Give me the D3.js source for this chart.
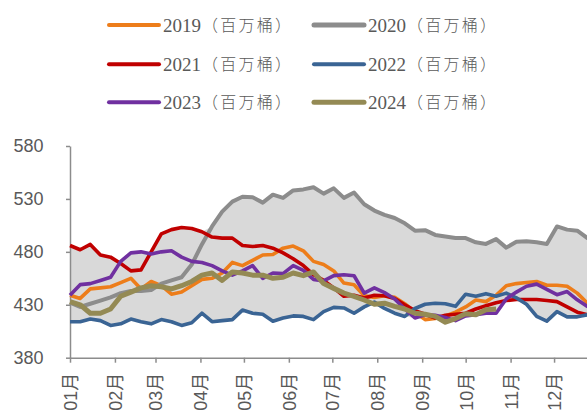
<!DOCTYPE html>
<html>
<head>
<meta charset="utf-8">
<script src="https://cdn.jsdelivr.net/npm/d3@7"></script>
<style>
  body { margin: 0; background: #fff; }
  svg { display: block; }
</style>
</head>
<body>
<svg id="chart" width="587" height="412"></svg>
<script>
// weekly inventory, one value per week starting from Jan 1
const v2019 = [439, 436, 445, 446, 447, 451, 455, 445, 452, 448, 440, 442, 448, 454, 455, 460, 470, 467, 472, 477,
    477.5, 483.5, 485.5, 481, 471, 468, 462, 450.5, 449, 438.5, 437, 438.5, 437, 431, 423, 416, 417, 419.5, 423, 428,
    434.5, 433, 439, 448, 450, 451, 452, 448.5, 448.5, 447.5, 441, 431.6, 426];
const v2020 = [432, 428, 431, 434, 437, 441, 443, 443, 444, 450, 453, 456, 468, 487, 504, 518, 527.5, 532, 531.5, 526.5,
    534, 531, 538, 539, 541, 535, 540, 531, 536, 525, 519, 515, 512, 507, 500, 500.5, 496, 494.5, 493, 493,
    489, 487.5, 492, 484, 489.5, 490, 489, 487.5, 504, 501, 500, 493, 490];
const v2021 = [486, 482, 487, 477, 475, 469, 462, 463, 480, 497, 501, 503, 502, 499, 494, 493, 493, 486, 485, 486,
    483.5, 479, 473.5, 467, 458.5, 453, 446, 438, 439, 436.5, 439, 438.5, 436, 430, 424.5, 421, 417.5, 420, 421, 422,
    426, 429, 432, 434, 435, 435, 435, 434, 433, 428, 423, 420.6, 419];
const v2022 = [414, 414, 416.5, 415, 410.5, 412, 416.5, 414, 412, 416, 414, 410.5, 413, 422, 414, 415, 416, 425, 422, 421,
    414.5, 417.5, 419.5, 419, 416, 423.5, 427.5, 427, 422, 428, 432.5, 426.5, 422, 419, 426.5, 430.5, 431.5, 431, 428.5, 440,
    438, 440.5, 438, 441, 436.5, 430.5, 419, 414.5, 423.5, 418.6, 418.6, 420.6, 421];
const v2023 = [439, 449, 450, 453, 456, 471, 479, 480, 478, 480, 481, 475, 471, 470, 467, 462, 458, 462, 467, 455,
    460, 459.5, 467, 462.5, 454, 452.5, 457.5, 458.3, 457.4, 441, 446, 441.5, 435.5, 426, 417.5, 420.5, 420, 418, 415, 419.5,
    420.5, 422, 422, 435.5, 442, 447.5, 449.5, 444.5, 439.5, 442.5, 434.7, 428.4, 424];
const v2024 = [433, 430, 422, 422, 426, 438, 442, 446, 448, 447, 445, 448, 452, 458, 460, 453, 461, 460, 458, 458,
    455, 456, 460, 457.5, 461, 450, 445.5, 441, 438, 434.5, 430.5, 431.5, 428.5, 426, 422, 421, 419, 413.5, 417, 421.5,
    420.6, 425.3, 426];

const seriesYears = ["2019", "2020", "2021", "2022", "2023", "2024"];
const unitLabel = "（百万桶）";
const seriesColors = ["#ED7D1A", "#8C8C8C", "#C00000", "#3A6494", "#7030A0", "#948A54"];
const monthLabels = ["01月", "02月", "03月", "04月", "05月", "06月", "07月", "08月", "09月", "10月", "11月", "12月"];
const yTicks = [380, 430, 480, 530, 580];

const allSeries = [v2019, v2020, v2021, v2022, v2023, v2024];
const widths = [3.6, 4, 3.6, 3.6, 3.6, 5];

const svg = d3.select("#chart");
const start = new Date(Date.UTC(2019, 0, 1));
const end = new Date(Date.UTC(2020, 0, 1));

const x = d3.scaleUtc().domain([start, end]).range([70, 599]);
const y = d3.scaleLinear().domain([380, 580]).range([357.7, 146]);

const weekDate = i => d3.utcDay.offset(start, 7 * i);

// shaded range of 2019-2023
const band = d3.range(v2019.length).map(i => {
    const vals = [v2019[i], v2020[i], v2021[i], v2022[i], v2023[i]];
    return { d: weekDate(i), lo: d3.min(vals), hi: d3.max(vals) };
});

const area = d3.area()
    .x(d => x(d.d))
    .y0(d => y(d.lo))
    .y1(d => y(d.hi));

svg.append("path")
    .datum(band)
    .attr("d", area)
    .attr("fill", "#D9D9D9");

// axes
const monthStarts = d3.utcMonths(start, end);

const xAxis = svg.append("g")
    .attr("transform", "translate(0,357.7)")
    .call(d3.axisBottom(x).tickValues(monthStarts).tickSize(5).tickSizeOuter(0)
        .tickFormat((d, i) => monthLabels[i]));

xAxis.selectAll("text")
    .attr("transform", "rotate(-90)")
    .attr("text-anchor", "end")
    .attr("x", -15)
    .attr("y", 0)
    .attr("dy", "0.36em")
    .style("font-family", "'Liberation Sans', 'Noto Sans CJK SC', sans-serif")
    .style("font-size", "18px")
    .style("fill", "#595959");

const yAxis = svg.append("g")
    .attr("transform", "translate(70,0)")
    .call(d3.axisLeft(y).tickValues(yTicks).tickSize(4).tickSizeOuter(0).tickPadding(22.5));

yAxis.selectAll("text")
    .style("font-family", "'Liberation Sans', sans-serif")
    .style("font-size", "18px")
    .style("fill", "#595959");

svg.selectAll(".domain, .tick line")
    .attr("stroke", "#8C8C8C")
    .attr("stroke-width", 1.5);

// lines
const line = d3.line()
    .x((d, i) => x(weekDate(i)))
    .y(d => y(d));

allSeries.forEach((s, k) => {
    svg.append("path")
        .datum(s)
        .attr("d", line)
        .attr("fill", "none")
        .attr("stroke", seriesColors[k])
        .attr("stroke-width", widths[k])
        .attr("stroke-linejoin", "round");
});

// legend
const legend = svg.append("g");
seriesYears.forEach((yr, k) => {
    const col = k % 2, row = Math.floor(k / 2);
    const lx = col === 0 ? 109 : 314;
    const ly = [25, 64.3, 102.3][row];
    legend.append("line")
        .attr("x1", lx).attr("x2", lx + 50)
        .attr("y1", ly).attr("y2", ly)
        .attr("stroke", seriesColors[k])
        .attr("stroke-width", k === 5 || k === 1 ? 5 : 4)
        .attr("stroke-linecap", "round");
    legend.append("text")
        .attr("x", lx + 54)
        .attr("y", ly)
        .attr("dy", "0.35em")
        .text(yr)
        .style("font-family", "'Liberation Serif', serif")
        .style("font-size", "19px")
        .style("fill", "#595959");
    legend.append("text")
        .attr("x", lx + 93)
        .attr("y", ly)
        .attr("dy", "0.36em")
        .attr("textLength", 89)
        .attr("lengthAdjust", "spacing")
        .text(unitLabel)
        .style("font-family", "'Noto Sans CJK SC', sans-serif")
        .style("font-size", "16px")
        .style("font-weight", 300)
        .style("fill", "#595959");
});
</script>
</body>
</html>
